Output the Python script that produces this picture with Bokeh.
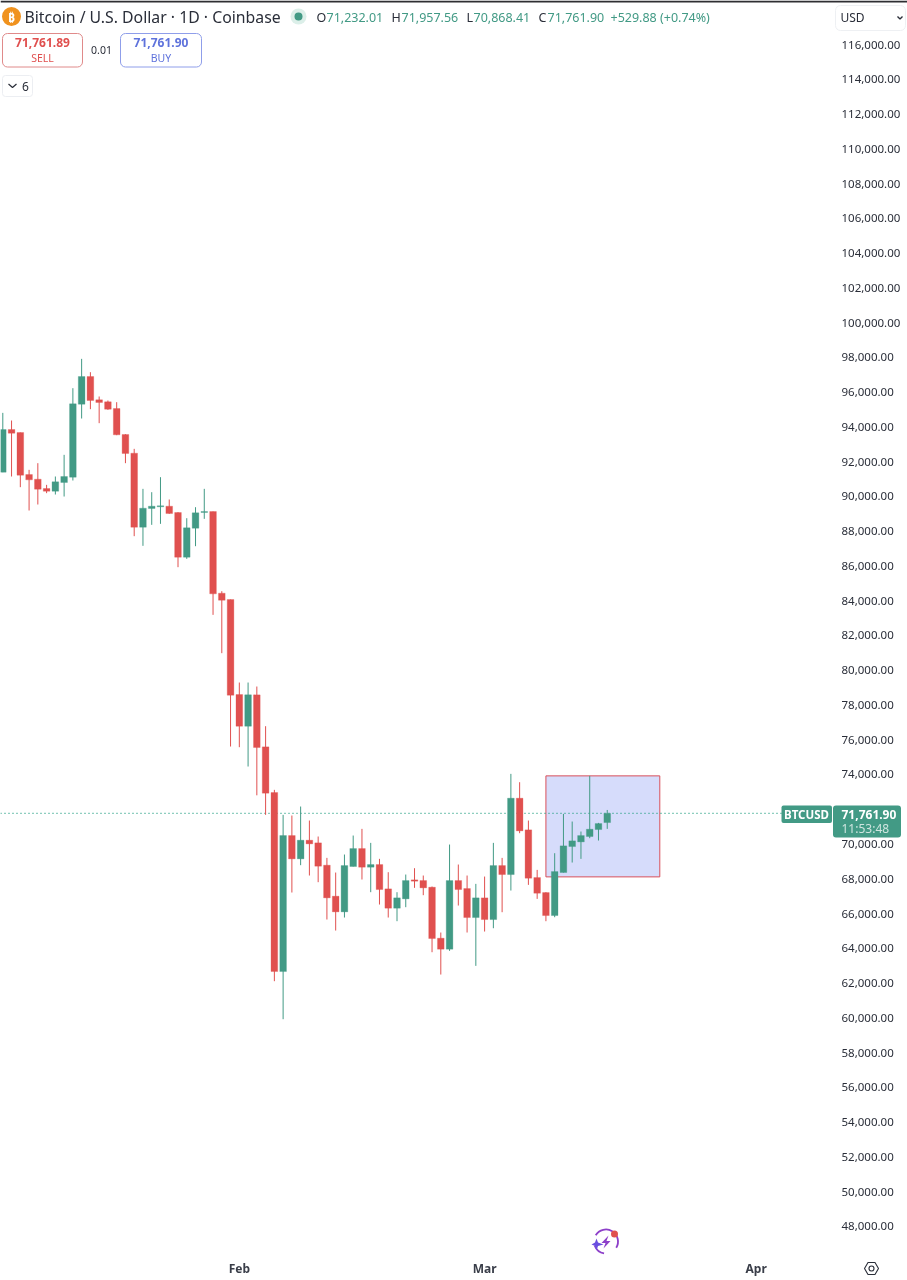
from bokeh.plotting import figure
from bokeh.embed import file_html
from bokeh.resources import INLINE
from bokeh.models import (ColumnDataSource, Range1d, FixedTicker, NumeralTickFormatter, Label, BoxAnnotation)

# ---- data ----
opens = [91392,93847,93675,91258,90990,90452,90299,90798,91105,95305,
         96897,95554,95439,95056,93560,92486,88228,89302,89398,89436,
         89072,86501,88170,89072,89129,84430,84066,78599,76777,78580,
         75588,72961,62661,70486,69144,70218,70064,68779,66996,66094,
         68703,69738,68664,68818,67417,66305,66842,67935,67897,67513,
         64579,63946,67897,67437,65768,66899,65652,68759,68241,72634,
         70812,68069,67206,65882,68357,69853,70121,70428,70831,71232.01]
highs = [94806,94365,93675,91527,91910,90663,91143,92390,96226,97913,
         97146,95746,95516,95420,93579,92735,90433,90241,91105,89820,
         89091,88745,89378,90433,89129,84545,84066,79290,79290,79060,
         76777,73114,71675,71637,72155,71349,70429,69201,68357,69393,
         70486,70870,70064,69144,68376,67226,68242,68607,68185,67552,
         64905,69968,68818,68185,67705,68126,70064,69200,74034,73554,
         71349,68510,67225,69469,71732,71291,70716,73919,71214,71957.56]
lows = [91392,91143,90529,89187,89532,90184,90107,89992,90913,94480,
        95017,94212,94979,93521,91910,87710,87154,88362,88419,88995,
        85926,86405,87134,88707,83183,80978,75607,75569,74457,72800,
        71675,62105,59918,67207,68779,68185,67801,65653,65020,65768,
        68703,67955,67226,66516,65768,65557,66363,67475,67053,63773,
        62488,63850,66458,64905,62987,64962,65153,66074,67321,70620,
        67647,66841,65556,65786,68357,68932,69143,70332,70198,70868.41]
closes = [93847,93636,91220,90951,90414,90299,90836,91143,95324,96897,
          95516,95401,95017,93540,92466,88228,89321,89436,89455,89014,
          86501,88189,89052,89129,84392,84027,78561,76777,78580,75550,
          72922,62661,70486,69144,70218,70007,68722,66900,66094,68760,
          69738,68664,68818,67379,66305,66900,67897,67859,67475,64560,
          63946,67897,67379,65768,66900,65652,68759,68241,72634,70754,
          68030,67167,65882,68414,69891,70179,70485,70850,71176,71761.90]
# 72,000 is hidden behind the last-price tag in the reference
price_ticks = [48000 + 2000 * i for i in range(35) if 48000 + 2000 * i != 72000]
month_labels = {27: "Feb", 55: "Mar", 86: "Apr"}
last_price = 71761.90
box_start, box_end = 62, 75
box_low, box_high = 68107, 73919

# ---- style ----
GREEN, RED, BLUE = "#429a85", "#e0504f", "#5f73dc"
DARK, FONT = "#2a2e39", "Noto Sans"
W, H, FW, FH = 907, 1280, 832, 1253
PX_PER_DAY, X0 = 8.76, 2.3
PER_PX = 2000 / 34.76

x_left, x_right = -X0 / PX_PER_DAY, (FW - X0) / PX_PER_DAY
y_top = 116000 + 44 * PER_PX
y_bot = 116000 - (FH - 44) * PER_PX
dx = lambda px: (px - X0) / PX_PER_DAY          # line-end helper: pixel -> data

p = figure(width=W, height=H, frame_width=FW, frame_height=FH, output_backend="svg",
           toolbar_location=None, y_axis_location="right",
           x_range=Range1d(x_left, x_right), y_range=Range1d(y_bot, y_top),
           min_border=0, min_border_left=0, min_border_right=0, min_border_top=0, min_border_bottom=0,
           background_fill_color="white", border_fill_color="white",
           styles={"position": "fixed", "left": "0px", "top": "0px"})
p.outline_line_color = None
p.grid.visible = False

ya = p.yaxis[0]
ya.ticker = FixedTicker(ticks=price_ticks)
ya.formatter = NumeralTickFormatter(format="0,0.00")
ya.axis_line_color = None
ya.major_tick_line_color = None
ya.minor_tick_line_color = None
ya.major_tick_out = 0
ya.major_tick_in = 0
ya.major_label_standoff = 9
ya.major_label_text_font = FONT
ya.major_label_text_font_size = "11.5px"
ya.major_label_text_color = DARK

xa = p.xaxis[0]
xa.ticker = FixedTicker(ticks=list(month_labels))
xa.major_label_overrides = month_labels
xa.axis_line_color = None
xa.major_tick_line_color = None
xa.minor_tick_line_color = None
xa.major_tick_out = 0
xa.major_tick_in = 0
xa.major_label_standoff = 6
xa.major_label_text_font = FONT
xa.major_label_text_font_size = "12px"
xa.major_label_text_font_style = "bold"
xa.major_label_text_color = "#3a3e49"

# ---- rectangle drawing ----
p.quad(left=[box_start], right=[box_end], bottom=[box_low], top=[box_high],
       fill_color="#d6dcfb", line_color="#d9505a", line_width=1)

# ---- last price line ----
p.segment(x0=[x_left], x1=[dx(781)], y0=[last_price], y1=[last_price],
          line_color="#1f9d80", line_dash="1 3", line_width=1.2, line_alpha=1)

# ---- candles ----
idx = list(range(len(opens)))
src = ColumnDataSource(dict(
    x=idx, h=highs, l=lows,
    top=[max(o, c) for o, c in zip(opens, closes)],
    bottom=[min(o, c) for o, c in zip(opens, closes)],
    color=[GREEN if c >= o else RED for o, c in zip(opens, closes)]))
p.segment(x0="x", x1="x", y0="l", y1="h", line_color="color", line_width=1, source=src)
p.vbar(x="x", width=0.76, top="top", bottom="bottom", fill_color="color", line_color="color",
       line_width=0.3, source=src)

# ---- transparent overlay in page pixels, for the interface furniture ----
ui = figure(width=W, height=H, output_backend="svg", toolbar_location=None,
            x_range=Range1d(0, W), y_range=Range1d(H, 0),
            x_axis_location=None, y_axis_location=None,
            min_border=0, min_border_left=0, min_border_right=0, min_border_top=0, min_border_bottom=0,
            background_fill_color=None, border_fill_color=None,
            styles={"position": "fixed", "left": "0px", "top": "0px", "z-index": "5", "pointer-events": "none"})
ui.outline_line_color = None
ui.grid.visible = False


def txt(x, y, s, size=12, color=DARK, align="left", style="normal", font=FONT):
    ui.add_layout(Label(x=x, y=y, text=s, text_font=font, text_font_size=f"{size}px", text_color=color,
                        text_align=align, text_baseline="middle", text_font_style=style))


def box(l, t, r, b, fill=None, line=None, radius=0, width=1):
    ui.add_layout(BoxAnnotation(left=l, right=r, top=t, bottom=b,
                                fill_color=fill, fill_alpha=1 if fill else 0, line_color=line, line_alpha=1,
                                line_width=width, border_radius=radius))


# top bar
box(0, 0, W, 2, fill="#2e2e32")

# header
ui.scatter([11], [16], size=19, color="#f0921e", line_color=None)
txt(11, 16.5, "₿", 12, "white", "center", "bold")
txt(24, 16.5, "Bitcoin / U.S. Dollar · 1D · Coinbase", 15.8)
ui.scatter([298], [16], size=16, color="#dcefe9", line_color=None)
ui.scatter([298], [16], size=8, color=GREEN, line_color=None)
for x, s, c in [(316, "O", DARK), (326, "71,232.01", GREEN), (391, "H", DARK), (401, "71,957.56", GREEN),
                (466, "L", DARK), (473, "70,868.41", GREEN), (538, "C", DARK),
                (547, "71,761.90", GREEN), (610, "+529.88 (+0.74%)", GREEN)]:
    txt(x, 16.5, s, 12.5, c)

# sell / buy
box(2, 33, 82, 66.5, line="#e08a8a", radius=5)
txt(42, 42, "71,761.89", 12, RED, "center", "bold")
txt(42, 57, "SELL", 10.5, RED, "center")
txt(101, 49.5, "0.01", 10.5, DARK, "center")
box(120, 33, 201, 66.5, line="#8f9eea", radius=5)
txt(160.5, 42, "71,761.90", 12, BLUE, "center", "bold")
txt(160.5, 57, "BUY", 10.5, BLUE, "center")

# indicators toggle
box(2, 75, 32, 96, line="#eceef2", radius=3)
ui.line([8, 12, 16], [83.5, 87, 83.5], line_color=DARK, line_width=1.2)
txt(25, 85.5, "6", 12, DARK, "center")

# currency box
box(835, 5, 905, 30, line="#eef0f3", radius=5)
txt(840, 17, "USD", 12, DARK, "left")
ui.line([897, 899.5, 902], [16, 18.5, 16], line_color=DARK, line_width=1.4)

# last price tags
box(781, 805, 831.5, 822.5, fill=GREEN, radius=2)
txt(806, 814, "BTCUSD", 11.5, "white", "center", "bold")
box(832.5, 805, 900.5, 837, fill=GREEN, radius=3)
txt(841, 813.5, "71,761.90", 12, "white", "left", "bold")
txt(841, 827.5, "11:53:48", 12, "#cfe5df", "left")

# lightning icon
ui.arc([605.5], [1241], radius=12, radius_units="screen", start_angle=-0.55, end_angle=2.6,
       line_color="#8d3fc9", line_width=1.8)
ui.arc([605.5], [1241], radius=12, radius_units="screen", start_angle=3.5, end_angle=4.55,
       line_color="#8d3fc9", line_width=1.8)
ui.patch([608, 601, 605, 603, 610, 606], [1235, 1242.5, 1242.5, 1248, 1240.5, 1240.5],
         fill_color="#8d3fc9", line_color=None)
ui.patch([596, 597.5, 603, 597.5, 596, 594.5, 591, 594.5], [1238, 1242, 1244, 1245.5, 1250, 1245.5, 1244, 1242],
         fill_color="#6a4fe0", line_color=None)
ui.scatter([614], [1233.5], size=7, color=RED, line_color=None)

# settings icon
ui.patch([864, 867.5, 874.5, 878, 874.5, 867.5], [1268, 1262, 1262, 1268, 1274, 1274],
         fill_color=None, line_color=DARK, line_width=1.1)
ui.scatter([871], [1268], marker="circle", size=5, fill_color=None, line_color=DARK, line_width=1.1)

open("out.html", "w").write(file_html([p, ui], INLINE))
